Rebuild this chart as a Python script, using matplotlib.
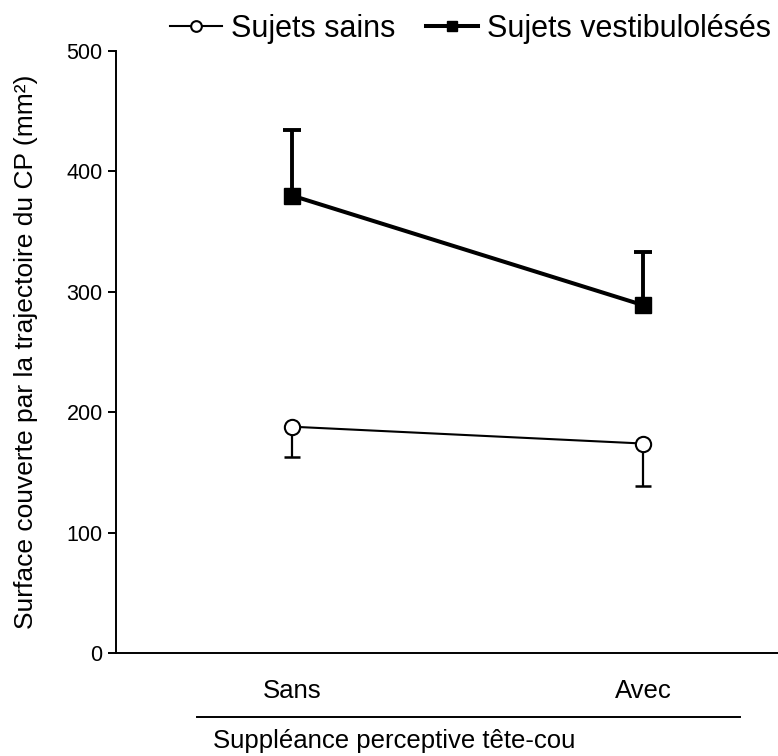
import matplotlib
matplotlib.use("Agg")
import matplotlib.pyplot as plt

plt.rcParams['font.family'] = ['Liberation Sans', 'DejaVu Sans']

conditions = ['Sans', 'Avec']
sains_mean = [188, 174]
sains_sd = [25, 35]
vest_mean = [380, 289]
vest_sd = [54, 44]
yticks = [0, 100, 200, 300, 400, 500]

fig = plt.figure(figsize=(7.78, 7.56), dpi=100)
ax = fig.add_axes([0.149, 0.1362, 0.851, 0.7963])

x = list(range(len(conditions)))

# one-sided error bars: healthy subjects down, patients up
sains_low = [m - s for m, s in zip(sains_mean, sains_sd)]
vest_high = [m + s for m, s in zip(vest_mean, vest_sd)]
ax.vlines(x, sains_low, sains_mean, color='black', lw=1.6, zorder=2)
ax.plot(x, sains_low, ls='none', marker='_', ms=12, mew=1.8, color='black', zorder=2)
ax.vlines(x, vest_mean, vest_high, color='black', lw=2.8, zorder=2)
ax.plot(x, vest_high, ls='none', marker='_', ms=13, mew=2.8, color='black', zorder=2)

ax.plot(x, sains_mean, '-o', color='black', lw=1.5, ms=11, mfc='white',
        mec='black', mew=1.5, label='Sujets sains', zorder=3)
ax.plot(x, vest_mean, '-s', color='black', lw=2.9, ms=11, mfc='black',
        mec='black', label='Sujets vestibulolésés', zorder=3)

ax.set_xlim(-0.501, 1.385)
ax.set_ylim(0, 500)
ax.set_yticks(yticks)
ax.set_xticks(x)
ax.set_xticklabels(conditions, fontsize=18.5)
ax.tick_params(axis='x', length=0, pad=19)
ax.tick_params(axis='y', length=6, width=1.4, labelsize=15.5, direction='out')

for s in ['top', 'right']:
    ax.spines[s].set_visible(False)
ax.spines['left'].set_linewidth(1.4)
ax.spines['bottom'].set_linewidth(1.4)

ax.set_ylabel('Surface couverte par la trajectoire du CP (mm²)', fontsize=19)
ax.yaxis.set_label_coords(-0.118, 0.5)
ax.set_xlabel('Suppléance perceptive tête-cou', fontsize=18.5)
ax.xaxis.set_label_coords(0.421, -0.127)

# separator line between category labels and axis title
ax.plot([0.122, 0.943], [-0.106, -0.106], color='black', lw=1.4,
        transform=ax.transAxes, clip_on=False)

ax.legend(loc='center', bbox_to_anchor=(0.535, 1.037), ncol=2, frameon=False,
          fontsize=22, handlelength=1.7, handletextpad=0.3, columnspacing=1.0,
          markerscale=0.7, borderaxespad=0, borderpad=0)

fig.savefig('out.png', dpi=100)
